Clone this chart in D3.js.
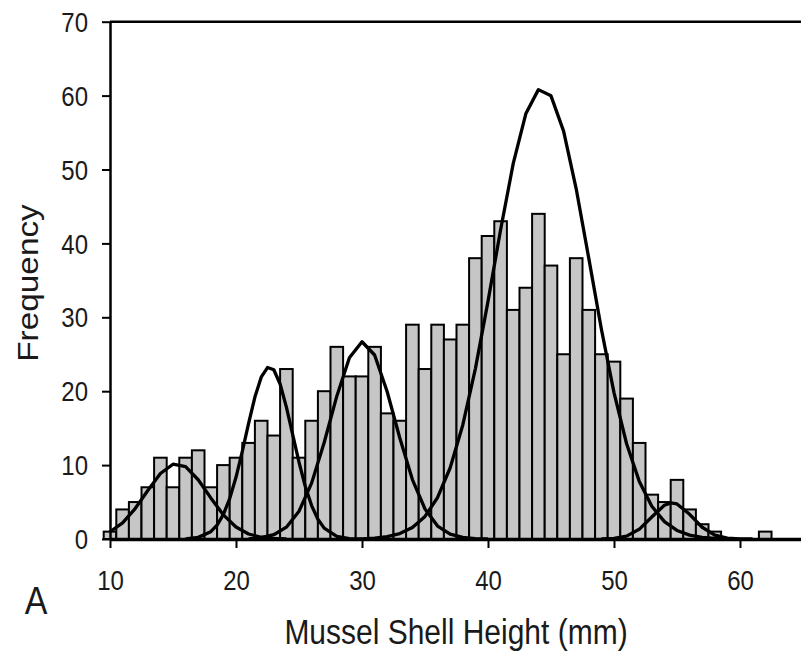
<!DOCTYPE html>
<html>
<head>
<meta charset="utf-8">
<script src="https://cdn.jsdelivr.net/npm/d3@7"></script>
<style>
  body { margin: 0; background: #fff; }
  svg { display: block; }
  text { font-family: "Liberation Sans", Arial, sans-serif; fill: #1a1a1a; }
</style>
</head>
<body>
<div id="chart"></div>
<script>
// histogram bins (centre of each 1 mm bin) and counts
var binCentres = [10, 11, 12, 13, 14, 15, 16, 17, 18, 19, 20, 21, 22, 23, 24, 25, 26, 27, 28, 29, 30,
  31, 32, 33, 34, 35, 36, 37, 38, 39, 40, 41, 42, 43, 44, 45, 46, 47, 48, 49, 50,
  51, 52, 53, 54, 55, 56, 57, 58, 59, 60, 61, 62];
var counts = [1, 4, 5, 7, 11, 7, 11, 12, 7, 10, 11, 13, 16, 14, 23, 11, 16, 20, 26, 22, 22,
  26, 17, 16, 29, 23, 29, 27, 29, 38, 41, 43, 31, 34, 44, 37, 25, 38, 31, 25, 24,
  19, 13, 6, 5, 8, 4, 2, 1, 0, 0, 0, 1];

// fitted component curves as [height, frequency]
var curve1 = [[10, 0.98], [11, 2.19], [12, 4.12], [13, 6.56], [14, 8.86], [15, 10.12], [16, 9.79],
  [17, 8.02], [18, 5.56], [19, 3.26], [20, 1.62], [21, 0.68], [22, 0.24], [23, 0.07], [24, 0]];
var curve2 = [[16, 0], [17, 0.22], [18, 0.99], [18.5, 1.88], [19, 3.33], [19.5, 5.47], [20, 8.35],
  [20.5, 11.86], [21, 15.65], [21.5, 19.2], [22, 21.9], [22.5, 23.2], [23, 22.9], [23.5, 20.97],
  [24, 17.85], [24.5, 14.13], [25, 10.4], [25.5, 7.1], [26, 4.52], [26.5, 2.67], [27, 1.47],
  [28, 0.36], [29, 0.06], [30, 0]];
var curve3 = [[21, 0], [22, 0.18], [23, 0.58], [24, 1.6], [25, 3.75], [26, 7.56], [27, 13.06], [28, 19.33],
  [29, 24.53], [30, 26.69], [31, 24.9], [32, 19.93], [33, 13.67], [34, 8.04], [35, 4.06],
  [36, 1.75], [37, 0.65], [38, 0.21], [39, 0.06], [40, 0]];
var curve4 = [[30, 0], [31, 0.13], [32, 0.32], [33, 0.73], [34, 1.55], [35, 3.05], [36, 5.62], [37, 9.64],
  [38, 15.43], [39, 23.06], [40, 32.16], [41, 41.84], [42, 50.79], [43, 57.53], [44, 60.81],
  [45, 59.97], [46, 55.19], [47, 47.39], [48, 37.97], [49, 28.39], [50, 19.81], [51, 12.89],
  [52, 7.83], [53, 4.44], [54, 2.35], [55, 1.16], [56, 0.53], [57, 0.23], [58, 0.09], [59, 0]];
var curve5 = [[49, 0], [50, 0.08], [51, 0.39], [52, 1.31], [53, 2.97], [54, 4.57], [54.5, 4.89], [55, 4.75],
  [56, 3.34], [57, 1.59], [58, 0.51], [59, 0.11], [60, 0.02], [61, 0]];

var xTicks = [10, 20, 30, 40, 50, 60];
var yTicks = [0, 10, 20, 30, 40, 50, 60, 70];

var width = 801, height = 653;

var svg = d3.select("#chart").append("svg")
  .attr("width", width)
  .attr("height", height);

// x runs past the right edge like the cropped original
var x = d3.scaleLinear().domain([10, 70]).range([110, 866]);
var y = d3.scaleLinear().domain([0, 70]).range([539, 21.7]);

var bars = binCentres.map(function (c, i) { return { c: c, v: counts[i] }; })
  .filter(function (d) { return d.v > 0; });

svg.append("g").selectAll("rect")
  .data(bars)
  .enter().append("rect")
  .attr("x", d => x(d.c - 0.5))
  .attr("width", d => x(d.c + 0.5) - x(d.c - 0.5))
  .attr("y", d => y(d.v))
  .attr("height", d => y(0) - y(d.v))
  .attr("fill", "#c6c6c6")
  .attr("stroke", "#000")
  .attr("stroke-width", 2);

var line = d3.line()
  .x(d => x(d[0]))
  .y(d => y(d[1]));

[curve1, curve2, curve3, curve4, curve5].forEach(function (c) {
  svg.append("path")
    .datum(c)
    .attr("d", line)
    .attr("fill", "none")
    .attr("stroke", "#000")
    .attr("stroke-width", 3.3)
    .attr("stroke-linejoin", "round");
});

// top frame line
svg.append("line")
  .attr("x1", x(10)).attr("x2", x(70))
  .attr("y1", y(70)).attr("y2", y(70))
  .attr("stroke", "#000")
  .attr("stroke-width", 2.5);

// x axis
var xAxis = svg.append("g")
  .attr("transform", "translate(0," + y(0) + ")")
  .call(d3.axisBottom(x).tickValues(xTicks).tickSize(9).tickSizeOuter(0).tickFormat(d3.format("d")));
xAxis.select(".domain").attr("stroke-width", 3.5);
xAxis.selectAll(".tick line").attr("stroke-width", 2);
xAxis.selectAll("text")
  .attr("y", 0).attr("dy", "0.35em")
  .attr("transform", "translate(0,41) scale(1,1.15)")
  .attr("font-size", 24)
  .attr("fill", "#1a1a1a");

// y axis
var yAxis = svg.append("g")
  .attr("transform", "translate(" + x(10) + ",0)")
  .call(d3.axisLeft(y).tickValues(yTicks).tickSize(8).tickSizeOuter(0));
yAxis.select(".domain").attr("stroke-width", 2.5);
yAxis.selectAll(".tick line").attr("stroke-width", 2);
yAxis.selectAll("text")
  .attr("x", -22).attr("dy", "0.35em")
  .attr("transform", "scale(1,1.15)")
  .attr("font-size", 24)
  .attr("fill", "#1a1a1a");

// axis titles
svg.append("text")
  .attr("transform", "translate(456,632) scale(1,1.15)")
  .attr("text-anchor", "middle")
  .attr("dy", "0.35em")
  .attr("font-size", 30)
  .text("Mussel Shell Height (mm)");

svg.append("text")
  .attr("transform", "translate(28,283) scale(1,1.15) rotate(-90)")
  .attr("text-anchor", "middle")
  .attr("dy", "0.35em")
  .attr("font-size", 29)
  .text("Frequency");

svg.append("text")
  .attr("transform", "translate(36,600) scale(1,1.15)")
  .attr("text-anchor", "middle")
  .attr("dy", "0.35em")
  .attr("font-size", 34)
  .text("A");
</script>
</body>
</html>
